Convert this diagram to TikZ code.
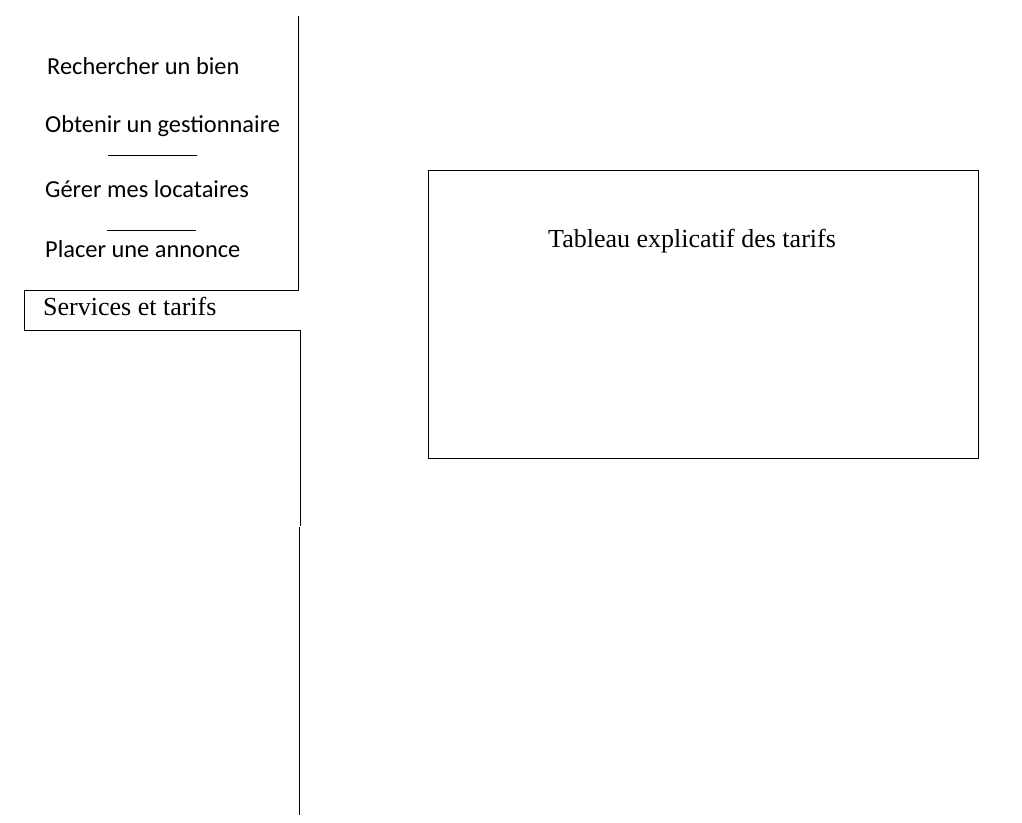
\documentclass[tikz,border=0pt]{standalone}
\usepackage{fontspec}
\setmainfont{Liberation Serif}
\newfontfamily\calib{Carlito}
\begin{document}
\begin{tikzpicture}[x=1pt,y=-1pt,
  line/.style={draw=black,line width=1pt},
  menuitem/.style={anchor=base west,inner sep=0pt,font=\calib\fontsize{24.4}{28}\selectfont},
  serifitem/.style={anchor=base west,inner sep=0pt,font=\fontsize{26}{30}\selectfont}]
\useasboundingbox[fill=white] (0,0) rectangle (1022,822);
% menu frame
\coordinate (top) at (298,16);
\coordinate (tabTR) at (298,290);
\coordinate (tabTL) at (24,290);
\coordinate (tabBL) at (24,330);
\coordinate (tabBR) at (300,330);
\coordinate (mid) at (300,526);
\coordinate (mid2) at (299,527);
\coordinate (bot) at (299,815);
\draw[line] (top) -- (tabTR) -- (tabTL) -- (tabBL) -- (tabBR) -- (mid);
\draw[line] (mid2) -- (bot);
% menu items
\node[menuitem] (m1) at (47,74) {Rechercher un bien};
\node[menuitem] (m2) at (45,132) {Obtenir un gestionnaire};
\node[menuitem] (m3) at (45,197) {Gérer mes locataires};
\node[menuitem] (m4) at (45,257) {Placer une annonce};
\coordinate (s1a) at (108,155); \coordinate (s1b) at (197,155);
\coordinate (s2a) at (107,230); \coordinate (s2b) at (196,230);
\draw[line] (s1a) -- (s1b);
\draw[line] (s2a) -- (s2b);
\node[serifitem] (tab) at (43,315) {Services et tarifs};
% content box
\node[draw=black,line width=1pt,minimum width=550pt,minimum height=288pt,anchor=north west,inner sep=0pt] (box) at (428,170) {};
\node[serifitem] (title) at (548,247) {Tableau explicatif des tarifs};
\end{tikzpicture}
\end{document}
